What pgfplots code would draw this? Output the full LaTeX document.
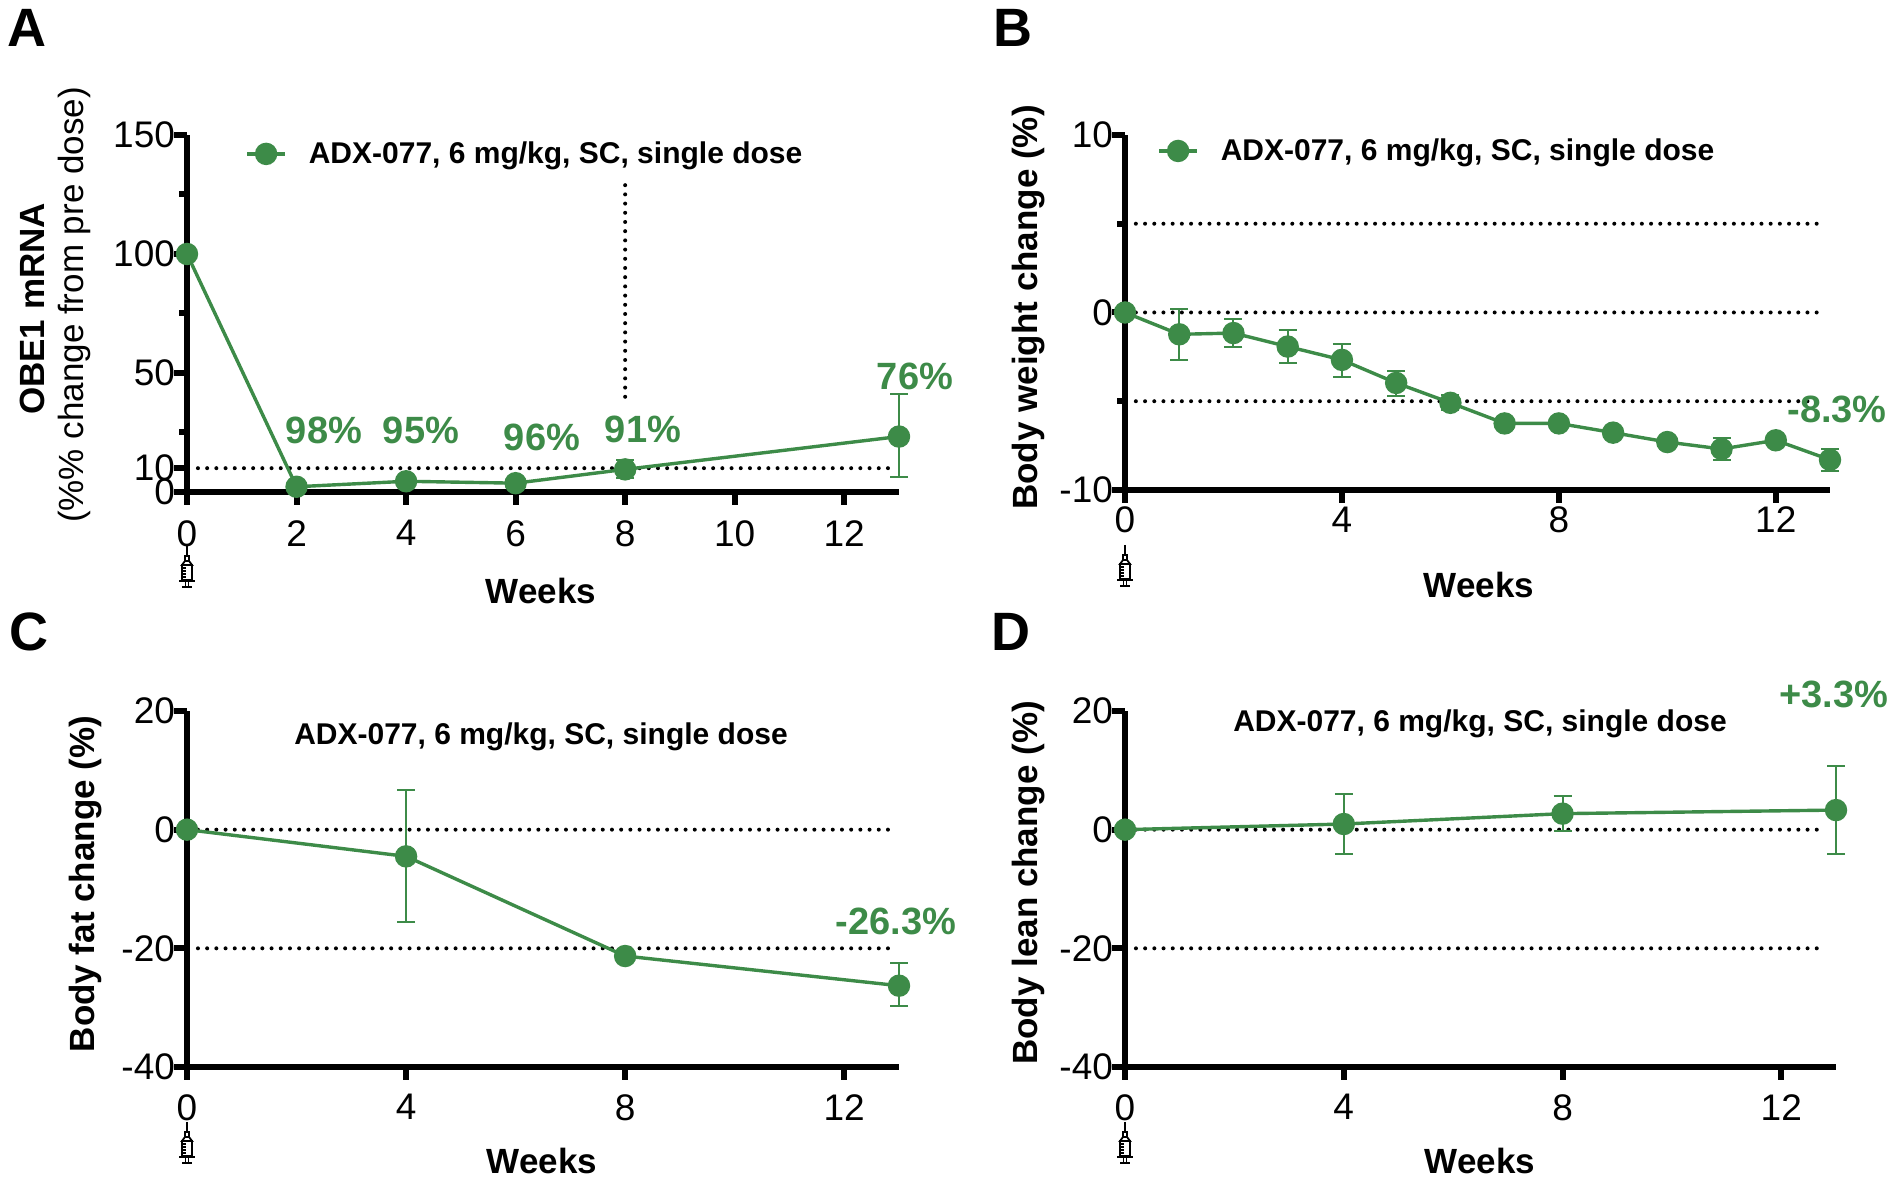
\documentclass[border=0pt]{standalone}
\usepackage{fontspec}
\setmainfont{Liberation Sans}
\usepackage{pgfplots}
\pgfplotsset{compat=1.18}
\definecolor{gr}{RGB}{61,139,72}
\newcommand{\fs}[1]{\fontsize{#1}{#1}\selectfont}
\newcommand{\syr}[2]{%
 \begin{scope}[shift={(#1,#2)}, line width=0.9pt, black]
  \draw (0,0)--(0,10);
  \draw (-2,10) rectangle (2,15);
  \draw (-2,15) -- (-5,19) -- (5,19) -- (2,15);
  \draw (-5,19) rectangle (5,34);
  \foreach \g in {22,25,28,31} \draw (-5,\g) -- (-1,\g);
  \draw (-8,35) -- (8,35);
  \draw (-1.5,35) -- (-1.5,40) (1.5,35) -- (1.5,40);
  \draw (-5,41) -- (5,41);
 \end{scope}}
\pgfplotsset{
 panel/.style={
  scale only axis, clip=false,
  axis lines=left,
  axis line style={-, line width=3pt, black},
  every outer x axis line/.append style={-, line width=3pt, black},
  every outer y axis line/.append style={-, line width=3pt, black},
  every inner x axis line/.append style={-, line width=3pt, black},
  every inner y axis line/.append style={-, line width=3pt, black},
  xmin=0, xmax=13,
  tick align=outside,
  major tick length=6.5pt, minor tick length=4pt,
  every tick/.style={line width=3pt, black},
  tick label style={font=\fs{18.5}},
  yticklabel style={xshift=4pt},
  /pgf/number format/assume math mode=true,
 },
 dline/.style={black, line width=2pt, dash pattern=on 0pt off 4.6pt, line cap=round, forget plot},
 dat/.style={gr, line width=1.7pt, mark=*, mark size=4.75pt, mark options={solid, fill=gr, draw=gr},
   error bars/.cd, y dir=both, y explicit,
   error bar style={line width=1pt, gr},
   error mark options={rotate=90, mark size=4.5pt, line width=1pt, gr}},
 leg/.style={
  legend style={at={#1}, anchor=west, draw=none, fill=none, inner sep=0pt,
    font=\bfseries\fs{15}, nodes={inner sep=0pt},
    /tikz/every odd column/.append style={column sep=11pt}},
  legend image code/.code={\draw[mark repeat=2,mark phase=2,##1] plot coordinates {(0pt,0pt) (9.5pt,0pt) (19pt,0pt)};}},
}
\begin{document}
\begin{tikzpicture}
\useasboundingbox (0,0) rectangle (947.5pt,590.5pt);
% ---------------- A
\begin{axis}[panel, at={(93.5pt,344.5pt)}, anchor=south west, width=356pt, height=178.5pt,
  ymin=0, ymax=150, ytick={0,10,50,100,150}, minor ytick={25,75,125},
  xtick={0,2,...,12}, xticklabel style={yshift=-4.2pt}, leg={(0.0815,0.947)}]
\addplot[dline] coordinates {(0.2,10) (12.85,10)};
\addplot[dline] coordinates {(8,40) (8,130)};
\addplot[dat] table[x=w,y=v,y error plus=ep,y error minus=em] {
w v ep em
0 100 0 0
2 2.2 0 0
4 4.5 1 1
6 3.7 0.8 0.8
8 9.5 3.8 3.7
13 23.3 17.7 17.2
};
\addlegendentry{ADX-077, 6 mg/kg, SC, single dose}
\end{axis}
% ---------------- B
\begin{axis}[panel, at={(562.5pt,345.5pt)}, anchor=south west, width=352.5pt, height=177.5pt,
  ymin=-10, ymax=10, ytick={-10,0,10}, minor ytick={-5,5},
  xtick={0,4,8,12}, xticklabel style={yshift=1.5pt}, leg={(0.0454,0.955)}]
\addplot[dline] coordinates {(0.2,5) (12.9,5)};
\addplot[dline] coordinates {(0.2,0) (12.9,0)};
\addplot[dline] coordinates {(0.2,-5) (12.9,-5)};
\addplot[dat] table[x=w,y=v,y error plus=ep,y error minus=em] {
w v ep em
0 0 0 0
1 -1.23 1.45 1.47
2 -1.16 0.8 0.77
3 -1.92 0.92 0.93
4 -2.67 0.9 0.97
5 -3.97 0.7 0.75
6 -5.09 0.42 0.43
7 -6.25 0.3 0.3
8 -6.25 0.12 0.12
9 -6.77 0.1 0.1
10 -7.3 0.1 0.1
11 -7.69 0.64 0.6
12 -7.2 0.1 0.1
13 -8.3 0.6 0.65
};
\addlegendentry{ADX-077, 6 mg/kg, SC, single dose}
\end{axis}
% ---------------- C
\begin{axis}[panel, at={(93.5pt,57pt)}, anchor=south west, width=356pt, height=178pt,
  ymin=-40, ymax=20, ytick={-40,-20,0,20}, xtick={0,4,8,12}, xticklabel style={yshift=-3.6pt}]
\addplot[dline] coordinates {(0.2,0) (12.85,0)};
\addplot[dline] coordinates {(0.2,-20) (12.85,-20)};
\addplot[dat] table[x=w,y=v,y error plus=ep,y error minus=em] {
w v ep em
0 0 0 0
4 -4.5 11.1 11.0
8 -21.3 0.8 0.8
13 -26.3 3.9 3.5
};
\end{axis}
% ---------------- D
\begin{axis}[panel, at={(562.5pt,57pt)}, anchor=south west, width=355.5pt, height=178pt,
  ymin=-40, ymax=20, ytick={-40,-20,0,20}, xtick={0,4,8,12}, xticklabel style={yshift=-3.6pt}]
\addplot[dline] coordinates {(0.2,0) (12.8,0)};
\addplot[dline] coordinates {(0.2,-20) (12.8,-20)};
\addplot[dat] table[x=w,y=v,y error plus=ep,y error minus=em] {
w v ep em
0 0 0 0
4 0.95 5.05 5.05
8 2.7 3.0 3.0
13 3.3 7.4 7.4
};
\end{axis}
% ---------------- texts (pixel frame)
\begin{scope}[shift={(0pt,590.5pt)}, x=0.5pt, y=-0.5pt]
 \node[anchor=base west, inner sep=0pt] at (7,47) {\bfseries\fs{27}A};
 \node[anchor=base west, inner sep=0pt] at (993,47) {\bfseries\fs{27}B};
 \node[anchor=base west, inner sep=0pt] at (9,651) {\bfseries\fs{27}C};
 \node[anchor=base west, inner sep=0pt] at (991,651) {\bfseries\fs{27}D};
 \node[rotate=90, anchor=base, inner sep=0pt] at (44,309) {\bfseries\fs{17.5}OBE1 mRNA};
 \node[rotate=90, anchor=base, inner sep=0pt] at (83,305) {\fs{17.5}(\%\% change from pre dose)};
 \node[rotate=90, anchor=base, inner sep=0pt] at (1037,307.5) {\bfseries\fs{17.5}Body weight change (\%)};
 \node[rotate=90, anchor=base, inner sep=0pt] at (94,884) {\bfseries\fs{17.5}Body fat change (\%)};
 \node[rotate=90, anchor=base, inner sep=0pt] at (1037,883) {\bfseries\fs{17.5}Body lean change (\%)};
 \node[anchor=base, inner sep=0pt] at (541,604) {\bfseries\fs{17.5}Weeks};
 \node[anchor=base, inner sep=0pt] at (1479,598) {\bfseries\fs{17.5}Weeks};
 \node[anchor=base, inner sep=0pt] at (542,1174) {\bfseries\fs{17.5}Weeks};
 \node[anchor=base, inner sep=0pt] at (1480,1174) {\bfseries\fs{17.5}Weeks};
 \node[anchor=base, inner sep=0pt] at (541,745) {\bfseries\fs{15}ADX-077, 6 mg/kg, SC, single dose};
 \node[anchor=base, inner sep=0pt] at (1480,732) {\bfseries\fs{15}ADX-077, 6 mg/kg, SC, single dose};
 \begin{scope}[every node/.style={inner sep=0pt, text=gr, font=\bfseries\fs{19}}]
  \node at (324,430) {98\%};
  \node at (421,430) {95\%};
  \node at (542,437) {96\%};
  \node at (643,429) {91\%};
  \node at (915,376) {76\%};
  \node at (1837,409) {-8.3\%};
  \node at (896,921) {-26.3\%};
  \node at (1834,694) {+3.3\%};
 \end{scope}
 \syr{187}{546}
 \syr{1125}{545}
 \syr{187}{1122}
 \syr{1125}{1122}
\end{scope}
\end{tikzpicture}
\end{document}
